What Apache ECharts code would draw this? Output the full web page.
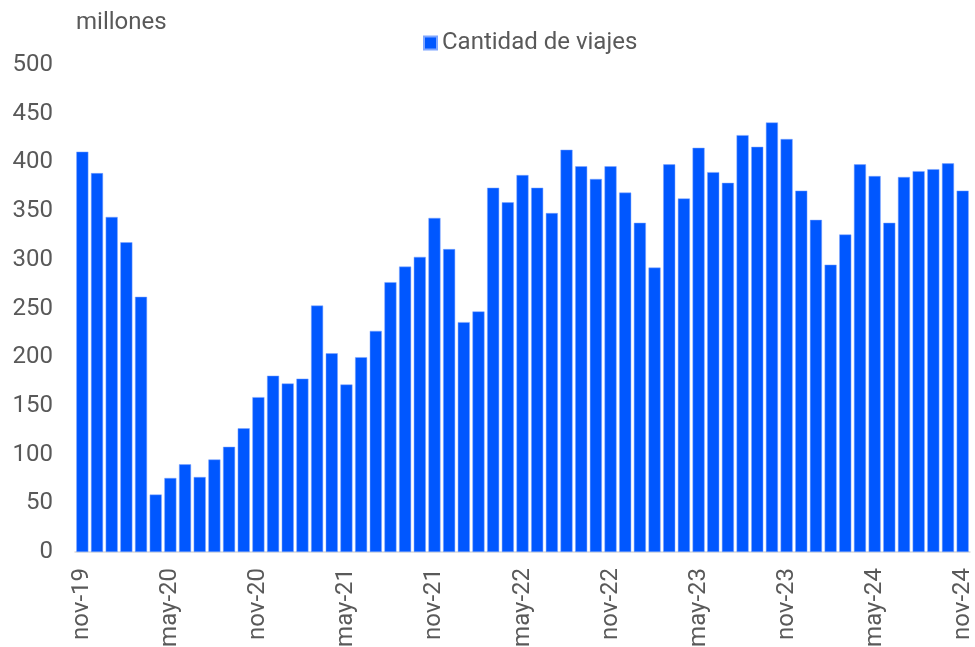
<!DOCTYPE html>
<html>
<head>
<meta charset="utf-8">
<script src="https://cdn.jsdelivr.net/npm/echarts@6/dist/echarts.min.js"></script>
<style>html,body{margin:0;padding:0;background:#fff;}#c{width:975px;height:647px;}</style>
</head>
<body>
<div id="c"></div>
<script>
const months = ['nov','dic','ene','feb','mar','abr','may','jun','jul','ago','sep','oct'];
const categories = [];
(function(){
  let m = 0, y = 19;
  for (let i = 0; i < 61; i++) {
    categories.push(months[m] + '-' + y);
    m++; if (m === 12) { m = 0; }
    if (months[m] === 'ene') y++;
  }
})();
const seriesName = 'Cantidad de viajes';
const viajes = [
  411, 389, 344, 318, 262, 59, 76, 90, 77, 95, 108, 127,
  159, 181, 173, 178, 253, 204, 172, 200, 227, 277, 293, 303,
  343, 311, 236, 247, 374, 359, 387, 374, 348, 413, 396, 383,
  396, 369, 338, 292, 398, 363, 415, 390, 379, 428, 416, 441,
  424, 371, 341, 295, 326, 398, 386, 338, 385, 391, 393, 399,
  371
];
const yTicks = [0, 50, 100, 150, 200, 250, 300, 350, 400, 450, 500];
const unitLabel = 'millones';

const chart = echarts.init(document.getElementById('c'));
chart.setOption({
  animation: false,
  textStyle: { fontFamily: 'Roboto' },
  title: {
    text: unitLabel, left: 71, top: 6,
    textStyle: { fontFamily: 'Roboto', fontSize: 24, fontWeight: 'normal', color: '#595959' }
  },
  legend: {
    data: [seriesName], left: 418, top: 26, itemWidth: 13, itemHeight: 13, itemGap: 5,
    icon: 'rect',
    textStyle: { fontFamily: 'Roboto', fontSize: 24, color: '#595959', padding: [0,0,0,0] }
  },
  grid: { left: 75, right: 5, top: 65, bottom: 95, containLabel: false, outerBoundsMode: 'none' },
  xAxis: {
    type: 'category', data: categories, boundaryGap: true,
    axisLine: { lineStyle: { color: '#d9d9d9', width: 1.5 } },
    axisTick: { interval: 5, length: 6, lineStyle: { color: '#d9d9d9', width: 1.5 } },
    axisLabel: { interval: 5, rotate: 90, margin: 16, fontSize: 24, color: '#595959', fontFamily: 'Roboto' }
  },
  yAxis: {
    type: 'value', min: yTicks[0], max: yTicks[yTicks.length-1], interval: 50,
    axisLine: { show: false }, axisTick: { show: false }, splitLine: { show: false },
    axisLabel: { fontSize: 24, color: '#595959', margin: 22, fontFamily: 'Roboto' }
  },
  series: [{
    name: seriesName, type: 'bar', data: viajes, barCategoryGap: '18%',
    itemStyle: { color: '#0057FF', borderColor: '#7fa6ff', borderWidth: 0.5 }
  }]
});
</script>
</body>
</html>
